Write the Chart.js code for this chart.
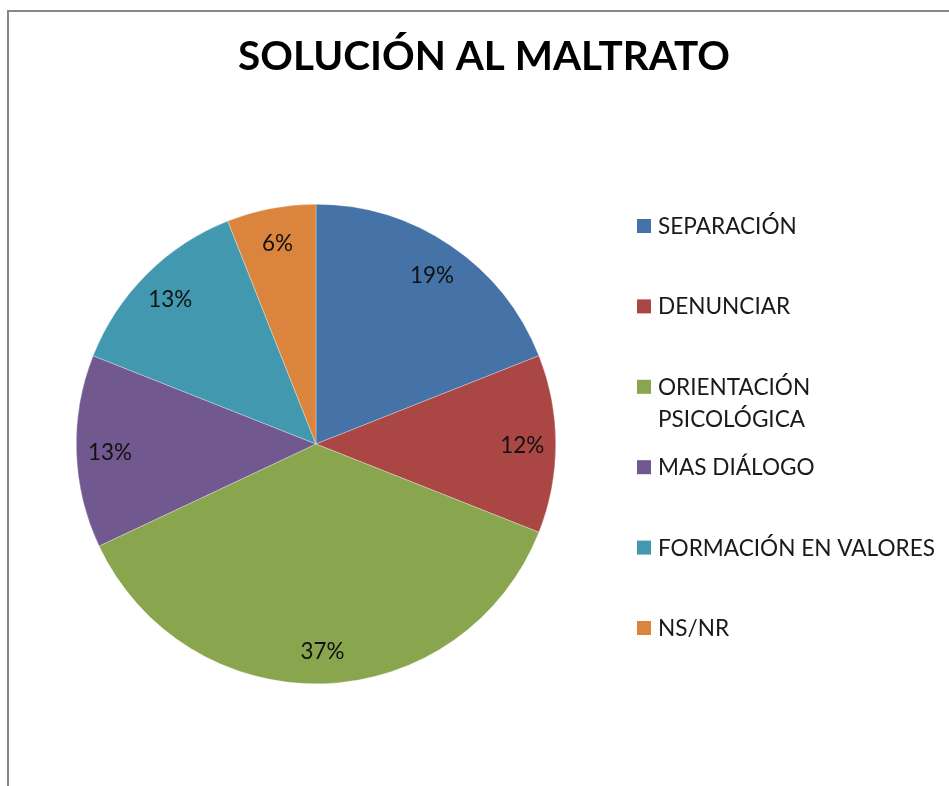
<!DOCTYPE html>
<html>
<head>
<meta charset="utf-8">
<script src="https://cdn.jsdelivr.net/npm/chart.js@4.4.0/dist/chart.umd.min.js"></script>
<style>
  html, body { margin: 0; padding: 0; background: #fff; }
  #wrap { width: 949px; height: 786px; position: relative; }
</style>
</head>
<body>
<div id="wrap"><canvas id="pieChart"></canvas></div>
<script>
"use strict";

var chartTitle = 'SOLUCIÓN AL MALTRATO';
var categories = ['SEPARACIÓN', 'DENUNCIAR', ['ORIENTACIÓN', 'PSICOLÓGICA'], 'MAS DIÁLOGO', 'FORMACIÓN EN VALORES', 'NS/NR'];
var percentages = [19, 12, 37, 13, 13, 6];
var sliceColors = ['#4572A7', '#AA4643', '#89A54E', '#71588F', '#4198AF', '#DB843D'];

var FONT = 'Lato';

// size a font so the given text takes the width seen in the picture
function fitSize(ctx, text, width, weight) {
    ctx.font = weight + ' 100px ' + FONT;
    return 100 * width / ctx.measureText(text).width;
}

var decor = {
    id: 'decor',
    beforeDraw: function (chart) {
        var ctx = chart.ctx;
        ctx.save();
        ctx.fillStyle = '#878787';
        ctx.fillRect(7, 10, 2, chart.height - 10);
        ctx.fillRect(7, 10, chart.width - 7, 2);
        ctx.restore();
    },
    afterDatasetsDraw: function (chart) {
        var ctx = chart.ctx;
        var meta = chart.getDatasetMeta(0);
        var values = chart.data.datasets[0].data;
        var total = values.reduce(function (a, b) { return a + b; }, 0);
        ctx.save();
        var size = fitSize(ctx, '12%', 44, 'normal');
        ctx.font = 'normal ' + size + 'px ' + FONT;
        ctx.fillStyle = '#111';
        ctx.textAlign = 'center';
        ctx.textBaseline = 'middle';
        meta.data.forEach(function (arc, i) {
            var p = arc.getProps(['x', 'y', 'startAngle', 'endAngle', 'outerRadius'], true);
            var mid = (p.startAngle + p.endAngle) / 2;
            var r = p.outerRadius * 0.86;
            var txt = Math.round(values[i] / total * 100) + '%';
            ctx.fillText(txt, p.x + Math.cos(mid) * r, p.y + Math.sin(mid) * r + 2);
        });
        ctx.restore();
    },
    afterDraw: function (chart) {
        var ctx = chart.ctx;
        ctx.save();
        // title
        var tsize = fitSize(ctx, chartTitle, 492, 'bold');
        ctx.font = 'bold ' + tsize + 'px ' + FONT;
        ctx.fillStyle = '#000';
        ctx.textAlign = 'center';
        ctx.textBaseline = 'alphabetic';
        ctx.fillText(chartTitle, 484, 70);

        // legend
        var lsize = fitSize(ctx, 'FORMACIÓN EN VALORES', 277, 'normal');
        ctx.font = 'normal ' + lsize + 'px ' + FONT;
        ctx.textAlign = 'left';
        var colors = chart.data.datasets[0].backgroundColor;
        chart.data.labels.forEach(function (lab, i) {
            var base = 234 + i * 80.4;
            var lines = Array.isArray(lab) ? lab : [lab];
            ctx.fillStyle = colors[i];
            ctx.fillRect(637, base - 15, 14, 14);
            ctx.fillStyle = '#1a1a1a';
            lines.forEach(function (ln, j) {
                ctx.fillText(ln, 658, base + j * 32);
            });
        });
        ctx.restore();
    }
};

var pieChart = new Chart(document.getElementById('pieChart'), {
    type: 'pie',
    data: {
        labels: categories,
        datasets: [{
            data: percentages,
            backgroundColor: sliceColors,
            borderColor: 'rgba(255,255,255,0.6)',
            borderWidth: 0.5
        }]
    },
    options: {
        responsive: true,
        maintainAspectRatio: false,
        animation: false,
        layout: {
            padding: { left: 76, right: 393, top: 204, bottom: 102 }
        },
        plugins: {
            legend: { display: false },
            title: { display: false },
            tooltip: { enabled: false }
        }
    },
    plugins: [decor]
});
</script>
</body>
</html>
